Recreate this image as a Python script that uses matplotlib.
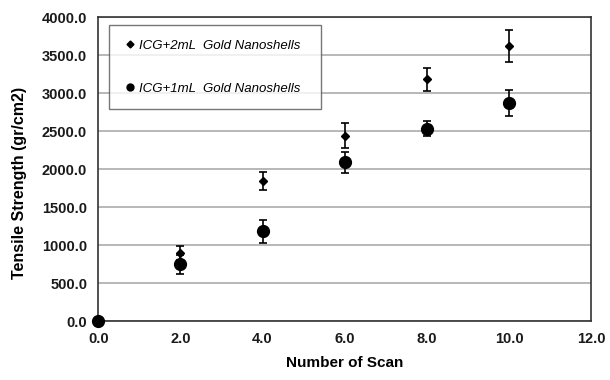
import numpy as np
import matplotlib.pyplot as plt
from matplotlib.lines import Line2D

plt.rcParams['font.family'] = ['Liberation Sans', 'DejaVu Sans']

scans = [0, 2, 4, 6, 8, 10]
gold2 = [0, 900, 1840, 2440, 3180, 3620]
gold2_err = [0, 90, 120, 165, 150, 210]
gold1 = [0, 750, 1180, 2090, 2530, 2870]
gold1_err = [0, 125, 150, 140, 100, 165]
labels = ['ICG+2mL  Gold Nanoshells', 'ICG+1mL  Gold Nanoshells']

fig = plt.figure(figsize=(6.1, 3.8), dpi=100)
ax = fig.add_axes([0.161, 0.155, 0.808, 0.80])

ax.errorbar(scans[1:], gold2[1:], yerr=gold2_err[1:], fmt='D', color='black',
            markersize=4.5, capsize=3, elinewidth=1.2, capthick=1.2, zorder=3)
ax.errorbar(scans, gold1, yerr=gold1_err, fmt='o', color='black',
            markersize=8.5, capsize=3, elinewidth=1.2, capthick=1.2,
            zorder=3, clip_on=False)

ax.set_xlim(0, 12)
ax.set_ylim(0, 4000)
xt = np.arange(0, 12.1, 2)
yt = np.arange(0, 4001, 500)
ax.set_xticks(xt)
ax.set_yticks(yt)
ax.set_xticklabels(['%.1f' % v for v in xt], fontweight='bold', fontsize=10.5)
ax.set_yticklabels(['%.1f' % v for v in yt], fontweight='bold', fontsize=10.5)
ax.tick_params(length=0, pad=8, colors='#1a1a1a')
ax.yaxis.grid(True, color='#ababab', linewidth=1.2)
ax.set_axisbelow(True)
for s in ax.spines.values():
    s.set_color('#333333')
    s.set_linewidth(1.2)

ax.set_xlabel('Number of Scan', fontweight='bold', fontsize=11, labelpad=7)
ax.set_ylabel('Tensile Strength (gr/cm2)', fontweight='bold', fontsize=11.5)
ax.yaxis.set_label_coords(-0.145, 0.455)

handles = [Line2D([], [], marker='D', color='black', linestyle='none', markersize=3.5),
           Line2D([], [], marker='o', color='black', linestyle='none', markersize=5)]
leg = ax.legend(handles, labels, loc='upper left', bbox_to_anchor=(0.022, 0.973, 0.43, 0.0),
                mode='expand', prop={'style': 'italic', 'size': 9.5},
                frameon=True, fancybox=False, edgecolor='#555555', borderpad=1.1,
                labelspacing=2.3, handletextpad=0.2, handlelength=1.0, borderaxespad=0)
leg.get_frame().set_linewidth(1.0)

fig.savefig('out.png', dpi=100)
